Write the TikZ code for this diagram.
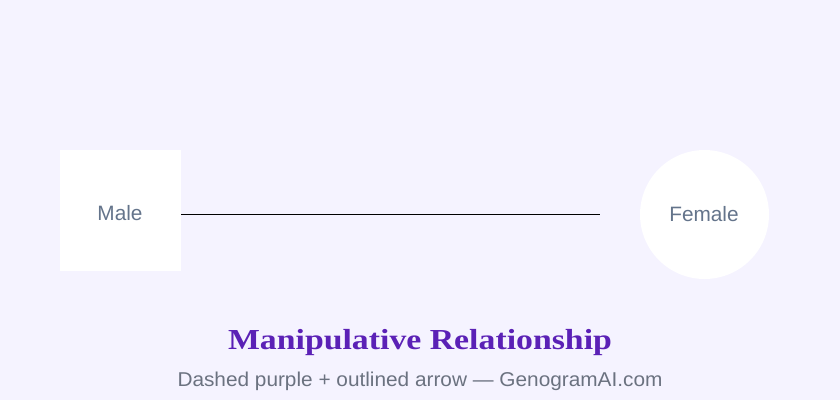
\documentclass[tikz,border=0pt]{standalone}
\usepackage{fontspec}
\setmainfont{Liberation Sans}
\newfontfamily\titlefont[FakeStretch=1.165]{Liberation Serif}
\newfontfamily\subfont[FakeStretch=1.04]{Liberation Sans}
\definecolor{bgc}{HTML}{F5F3FF}
\definecolor{labc}{HTML}{64748B}
\definecolor{titc}{HTML}{5B21B6}
\definecolor{subc}{HTML}{6B7280}
\begin{document}
\begin{tikzpicture}[x=1pt,y=-1pt,
  person/.style={fill=white,draw=none,inner sep=0pt},
  lab/.style={font=\fontsize{20.8}{24}\selectfont,text=labc,anchor=base},
  rel/.style={draw=black,line width=0.9pt}]
\fill[bgc] (0,0) rectangle (840,400);
\useasboundingbox (0,0) rectangle (840,400);
\node[person,minimum width=121pt,minimum height=121pt] (male) at (120.5,210.5) {};
\node[person,circle,minimum size=129pt] (female) at (704.5,214.5) {};
\node[lab] (malel) at (120,220) {Male};
\node[lab] (femalel) at (704,221) {Female};
\coordinate (relend) at (600,214);
\draw[rel] (male.east |- relend) -- (relend);
\node[anchor=base,text=titc,font=\titlefont\bfseries\fontsize{29}{34}\selectfont] (title) at (420,349) {Manipulative Relationship};
\node[anchor=base,text=subc,font=\subfont\fontsize{20}{24}\selectfont] (sub) at (420,386) {Dashed purple + outlined arrow — GenogramAI.com};
\end{tikzpicture}
\end{document}
